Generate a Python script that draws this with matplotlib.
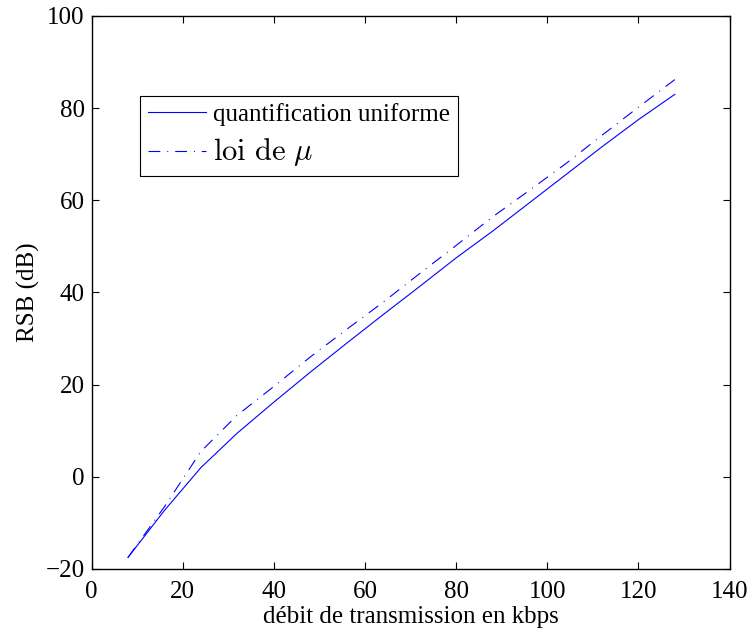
import matplotlib
matplotlib.use("Agg")
import matplotlib.pyplot as plt
import numpy as np

plt.rcParams['font.family'] = 'serif'
plt.rcParams['font.serif'] = ['Liberation Serif', 'DejaVu Serif']
plt.rcParams['mathtext.fontset'] = 'cm'
plt.rcParams['lines.scale_dashes'] = False

# debit (kbps) = 8 kHz x nombre de bits
debit = [8, 16, 24, 32, 40, 48, 56, 64, 72, 80, 88, 96, 104, 112, 120, 128]
rsb_uniforme = [-17.5, -7.3, 2.0, 9.5, 16.2, 22.7, 29.0, 35.2,
                41.3, 47.5, 53.3, 59.4, 65.5, 71.6, 77.5, 83.0]
rsb_mu = [-17.5, -6.5, 5.5, 13.4, 19.6, 26.0, 32.0, 37.9,
          44.1, 50.2, 56.4, 62.1, 67.9, 74.1, 80.2, 86.2]

fig = plt.figure(figsize=(7.47, 6.29), dpi=100)
ax = fig.add_axes([0.1225, 0.0954, 0.8541, 0.8792])

ax.plot(debit, rsb_uniforme, color='b', lw=0.8, label="quantification uniforme")
ax.plot(debit, rsb_mu, color='b', lw=0.8, dashes=(8.5, 5, 0.7, 5),
        label=r"$\mathrm{loi\ de\ }\mu$")

ax.set_xlim(0, 140)
ax.set_ylim(-20, 100)
ax.set_xticks(np.arange(0, 141, 20))
ax.set_yticks(np.arange(-20, 101, 20))
ax.tick_params(direction='in', length=4.7, width=0.8, top=True, right=True,
               labelsize=18)
ax.tick_params(axis='y', pad=5)
ax.tick_params(axis='x', pad=9)
for s in ax.spines.values():
    s.set_linewidth(1.0)

ax.set_xlabel("débit de transmission en kbps", fontsize=18, labelpad=2)
ax.set_ylabel("RSB (dB)", fontsize=18, labelpad=4)

leg = ax.legend(loc='upper left', bbox_to_anchor=(0.0763, 0.856), fontsize=18,
                fancybox=False, framealpha=1, edgecolor='k', handlelength=2.35,
                borderaxespad=0, handletextpad=0.27, labelspacing=0.4,
                borderpad=0.3)
leg.get_frame().set_linewidth(0.8)
leg.get_texts()[1].set_fontsize(22)

plt.savefig("out.png", dpi=100)
